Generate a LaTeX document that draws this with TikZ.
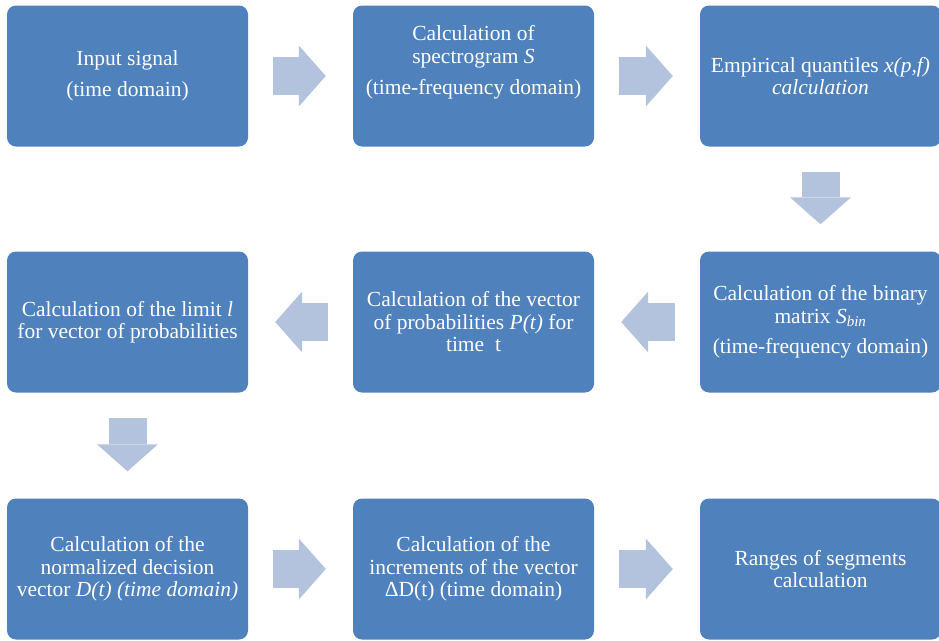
\documentclass[tikz,border=0pt]{standalone}
\usepackage{fontspec}
\setmainfont{Liberation Serif}
\usepackage{tikz}
\usetikzlibrary{arrows.meta}
\definecolor{boxblue}{HTML}{4F81BD}
\definecolor{arrowblue}{HTML}{B4C3DD}

\begin{document}
\begin{tikzpicture}[x=1pt, y=1pt,
    stepbox/.style={fill=boxblue, rounded corners=9pt, minimum width=241pt,
      minimum height=141pt, inner sep=0pt, text=white, align=center,
      font=\fontsize{21.5}{22.5}\selectfont},
    flow/.style={draw=arrowblue, line width=38pt,
      -{Triangle[length=27pt 0 0, width=61pt 0 0, line width=0pt 0 0]},
      shorten <=25pt, shorten >=27pt}
]

  \useasboundingbox (0,0) rectangle (939,-640);

  % First row (left to right)
  \node[stepbox] (input) at (127.5,-76) {Input signal\\[8pt](time domain)};
  \node[stepbox] (spec) at (473.5,-76) {Calculation of\\spectrogram \textit{S}\\[9pt](time-frequency domain)\\[9pt]~};
  \node[stepbox] (quant) at (820.5,-76) {Empirical quantiles \textit{x(p,f)}\\\textit{calculation}};

  % Second row (right to left)
  \node[stepbox] (binary) at (820.5,-322) {Calculation of the binary\\matrix \textit{S}\textsubscript{\textit{bin}}\\[8pt](time-frequency domain)};
  \node[stepbox] (prob) at (473.5,-322) {Calculation of the vector\\of probabilities \textit{P(t)} for\\time~~t};
  \node[stepbox] (limit) at (127.5,-322) {Calculation of the limit \textit{l}\\for vector of probabilities};

  % Third row (left to right)
  \node[stepbox] (decision) at (127.5,-569) {Calculation of the\\normalized decision\\vector \textit{D(t) (time domain)}};
  \node[stepbox] (incr) at (473.5,-569) {Calculation of the\\increments of the vector\\ΔD(t) (time domain)};
  \node[stepbox] (ranges) at (820.5,-569) {Ranges of segments\\calculation};

  % Block arrows
  \draw[flow] (input) -- (spec);
  \draw[flow] (spec) -- (quant);
  \draw[flow] (quant) -- (binary);
  \draw[flow] (binary) -- (prob);
  \draw[flow] (prob) -- (limit);
  \draw[flow] (limit) -- (decision);
  \draw[flow] (decision) -- (incr);
  \draw[flow] (incr) -- (ranges);

\end{tikzpicture}
\end{document}
